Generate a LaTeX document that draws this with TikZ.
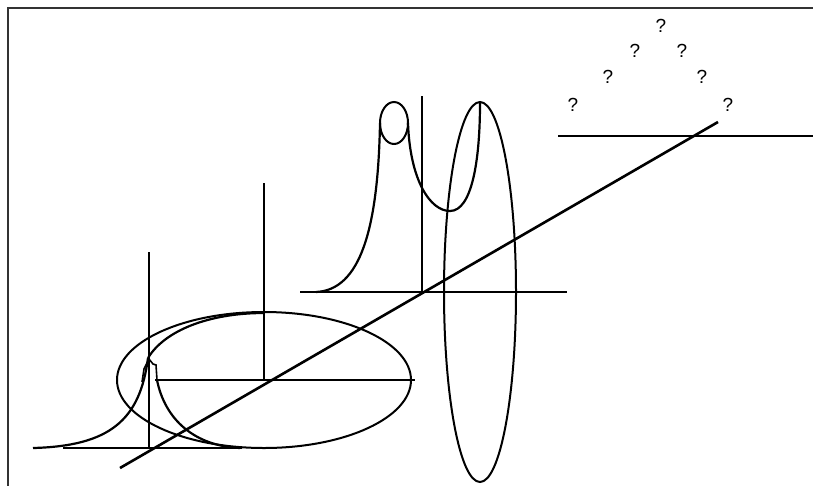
\documentclass[tikz,border=0pt]{standalone}
\usepackage{fontspec}
\setmainfont{Liberation Sans}
\usetikzlibrary{calc}

\begin{document}
\begin{tikzpicture}[
    x=1pt, y=-1pt,
    axis/.style={line width=2.6pt},
    curve/.style={line width=2.2pt},
    ring/.style={line width=2pt},
    qmark/.style={font=\fontsize{19}{19}\selectfont, inner sep=0pt}
  ]
    \useasboundingbox (0,0) rectangle (813,485);
    % frame
    \draw[line width=1.5pt,black!80] (8,490) -- (8,8) -- (820,8);

    % lower left axes
    \coordinate (lv0) at (149,448);
    \coordinate (lv1) at (149,252);
    \coordinate (lh0) at (63,448);
    \coordinate (lh1) at (242,448);
    \coordinate (c0) at (264,380);
    \coordinate (cv1) at (264,183);
    \coordinate (ch0) at (155,380);
    \coordinate (ch1) at (415,380);
    \draw[axis] (lv0) -- (lv1);
    \draw[axis] (lh0) -- (lh1);
    \draw[axis] (c0) -- (cv1);
    \draw[axis] (ch0) -- (ch1);
    \draw[ring] (c0) ellipse [x radius=147, y radius=68];

    % lower bell
    \draw[curve] (33,448) .. controls (110,446) and (140,420) .. (148,358);
    \draw[curve] (157,380) .. controls (165,420) and (195,446) .. (240,448);
    \draw[curve] (148,358) .. controls (165,330) and (210,313) .. (264,313);
    \draw[line width=1.6pt] (142,382) -- (144,369) -- (149,359) -- (153,364)
      -- (156,365) -- (157,380);

    % middle axes
    \coordinate (mo) at (422,292);
    \coordinate (mv1) at (422,96);
    \coordinate (mh0) at (300,292);
    \coordinate (mh1) at (567,292);
    \draw[axis] (mh0) -- (mh1);
    \draw[axis] (mo) -- (mv1);

    % middle curve
    \draw[curve] (316,292) .. controls (360,290) and (378,230) .. (380,123);
    \draw[curve] (408,123) .. controls (410,180) and (430,211) .. (450,211)
      .. controls (472,211) and (480,160) .. (480,103);
    \draw[ring] (394,123) ellipse [x radius=14, y radius=21];
    \draw[ring] (480,292) ellipse [x radius=36, y radius=190];

    % upper right
    \coordinate (rh0) at (558,136);
    \coordinate (rh1) at (820,136);
    \draw[axis] (rh0) -- (rh1);

    % diagonal
    \coordinate (d0) at (120,468);
    \coordinate (d1) at (718,122);
    \draw[axis] (d0) -- (d1);

    % marks
    \node[qmark] (q1) at (661,26) {?};
    \node[qmark] (q2) at (635,51) {?};
    \node[qmark] (q3) at (682,51) {?};
    \node[qmark] (q4) at (608,77) {?};
    \node[qmark] (q5) at (702,77) {?};
    \node[qmark] (q6) at (573,105) {?};
    \node[qmark] (q7) at (728,105) {?};
\end{tikzpicture}
\end{document}
